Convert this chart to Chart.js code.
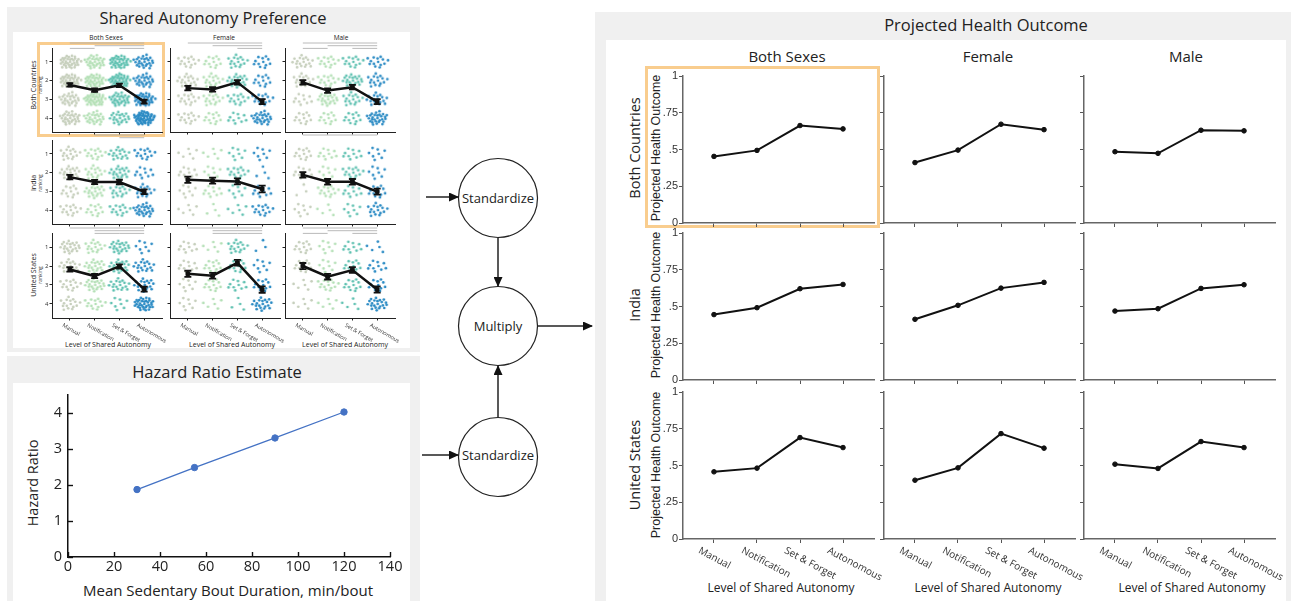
<!DOCTYPE html>
<html><head><meta charset="utf-8">
<script src="https://cdn.jsdelivr.net/npm/chart.js@4.4.1/dist/chart.umd.min.js"></script>
<style>
html,body{margin:0;padding:0;background:#fff;width:1291px;height:601px;overflow:hidden;position:relative;font-family:"Open Sans",sans-serif;color:#222}
.box{position:absolute}
.t{position:absolute;white-space:nowrap;transform:translate(-50%,-50%);line-height:1}
.r{transform:translate(-50%,-50%) rotate(-90deg)}
canvas{position:absolute}
svg{position:absolute;left:0;top:0}
</style></head><body>
<div class="box" style="left:7px;top:7px;width:413px;height:345px;background:#f0f0f0"></div>
<div class="box" style="left:13px;top:32px;width:397px;height:316px;background:#fff"></div>
<div class="box" style="left:7px;top:356px;width:413px;height:245px;background:#f0f0f0"></div>
<div class="box" style="left:13px;top:383px;width:397px;height:218px;background:#fff"></div>
<div class="box" style="left:595px;top:12px;width:696px;height:589px;background:#f0f0f0"></div>
<div class="box" style="left:606px;top:40px;width:680px;height:561px;background:#fff"></div>
<div class="box" style="left:37px;top:42px;width:122px;height:89px;border:3px solid #f9cd8e"></div>
<div class="box" style="left:645px;top:66px;width:229px;height:156px;border:3px solid #f9cd8e"></div>

<div class="t" style="left:213px;top:18px;font-size:16.5px">Shared Autonomy Preference</div>
<div class="t" style="left:217px;top:372px;font-size:16.5px">Hazard Ratio Estimate</div>
<div class="t" style="left:986px;top:25px;font-size:16.5px">Projected Health Outcome</div>
<div id="txt"></div>

<svg width="1291" height="601">
<defs><marker id="ah" markerWidth="10" markerHeight="9" refX="9" refY="4.5" orient="auto" markerUnits="userSpaceOnUse"><path d="M0,0 L10,4.5 L0,9 z" fill="#111"/></marker></defs>
<circle cx="498" cy="198" r="39.5" fill="#fff" stroke="#222" stroke-width="1.2"/>
<circle cx="498" cy="326" r="39.5" fill="#fff" stroke="#222" stroke-width="1.2"/>
<circle cx="498" cy="457" r="39.5" fill="#fff" stroke="#222" stroke-width="1.2"/>
<line x1="426" y1="197" x2="458" y2="197" stroke="#222" stroke-width="1.5" marker-end="url(#ah)"/>
<line x1="422" y1="455" x2="458" y2="455" stroke="#222" stroke-width="1.5" marker-end="url(#ah)"/>
<line x1="498" y1="238" x2="498" y2="286" stroke="#222" stroke-width="1.5" marker-end="url(#ah)"/>
<line x1="498" y1="417" x2="498" y2="366" stroke="#222" stroke-width="1.5" marker-end="url(#ah)"/>
<line x1="538" y1="326" x2="592" y2="326" stroke="#222" stroke-width="1.5" marker-end="url(#ah)"/>
<text x="498" y="202.5" text-anchor="middle" font-family="Open Sans" font-size="13" fill="#222">Standardize</text>
<text x="498" y="330.5" text-anchor="middle" font-family="Open Sans" font-size="13" fill="#222">Multiply</text>
<text x="498" y="460" text-anchor="middle" font-family="Open Sans" font-size="13" fill="#222">Standardize</text>
</svg>

<script>
// ---------------- DATA ----------------
const levels = ['Manual', 'Notification', 'Set & Forget', 'Autonomous'];
const sexes = ['Both Sexes', 'Female', 'Male'];
const regions = ['Both Countries', 'India', 'United States'];
const xAxisTitle = 'Level of Shared Autonomy';

// Projected Health Outcome (per level)
const healthBCBoth   = [0.453, 0.494, 0.663, 0.640];
const healthBCFemale = [0.411, 0.496, 0.672, 0.635];
const healthBCMale   = [0.485, 0.474, 0.631, 0.627];
const healthINBoth   = [0.445, 0.492, 0.621, 0.650];
const healthINFemale = [0.413, 0.508, 0.625, 0.664];
const healthINMale   = [0.469, 0.485, 0.623, 0.648];
const healthUSBoth   = [0.457, 0.482, 0.690, 0.622];
const healthUSFemale = [0.400, 0.484, 0.717, 0.618];
const healthUSMale   = [0.509, 0.480, 0.663, 0.622];
const healthTicks = [0, 0.25, 0.5, 0.75, 1];
const healthTickLabels = ['0', '.25', '.5', '.75', '1'];

// Shared autonomy preference: mean ranking and error
const prefBCBoth   = [2.23, 2.51, 2.25, 3.12];
const prefBCFemale = [2.40, 2.47, 2.09, 3.12];
const prefBCMale   = [2.09, 2.53, 2.35, 3.12];
const prefINBoth   = [2.24, 2.50, 2.50, 3.02];
const prefINFemale = [2.38, 2.43, 2.47, 2.87];
const prefINMale   = [2.12, 2.49, 2.49, 3.01];
const prefUSBoth   = [2.18, 2.53, 2.02, 3.22];
const prefUSFemale = [2.41, 2.51, 1.83, 3.24];
const prefUSMale   = [2.00, 2.56, 2.21, 3.24];
const errBCBoth   = [0.09, 0.09, 0.09, 0.10];
const errBCFemale = [0.12, 0.12, 0.12, 0.13];
const errBCMale   = [0.12, 0.12, 0.12, 0.13];
const errINBoth   = [0.12, 0.11, 0.12, 0.13];
const errINFemale = [0.17, 0.16, 0.16, 0.18];
const errINMale   = [0.15, 0.15, 0.15, 0.16];
const errUSBoth   = [0.12, 0.11, 0.11, 0.13];
const errUSFemale = [0.16, 0.15, 0.15, 0.17];
const errUSMale   = [0.16, 0.15, 0.15, 0.16];
const rankTicks = [1, 2, 3, 4];

// respondents per level (rows) at rank 1..4 (columns)
const countsBCBoth   = [[36,36,26,30],[30,36,40,26],[36,40,30,22],[26,26,36,50]];
const countsBCFemale = [[14,18,14,14],[12,16,16,12],[16,20,14,10],[12,12,14,26]];
const countsBCMale   = [[18,16,10,12],[14,14,22,12],[14,22,16,12],[14,16,18,28]];
const countsINBoth   = [[16,20,12,14],[14,16,20,12],[18,20,16,14],[14,10,16,26]];
const countsINFemale = [[6,10,8,6],[6,8,10,4],[8,14,8,6],[8,4,10,14]];
const countsINMale   = [[12,10,3,8],[10,8,14,5],[10,14,10,8],[8,8,12,16]];
const countsUSBoth   = [[22,18,14,16],[16,20,22,14],[22,20,18,8],[8,18,20,34]];
const countsUSFemale = [[10,10,8,8],[6,12,12,6],[16,12,10,4],[3,8,12,20]];
const countsUSMale   = [[12,12,6,6],[8,8,14,6],[10,12,12,5],[5,10,12,22]];

// significance brackets: [from level, to level, stack row]
const sigBCBoth   = [[0,3,0],[1,3,1],[0,1,2],[2,3,2]];
const sigBCFemale = [[0,3,0],[1,3,1],[2,3,2]];
const sigBCMale   = [[0,3,0],[1,3,1],[0,1,2],[2,3,2]];
const sigINBoth   = [[1,3,0],[2,3,1]];
const sigINFemale = [];
const sigINMale   = [[0,3,0]];
const sigUSBoth   = [[0,3,0],[1,3,1],[1,2,2],[2,3,2]];
const sigUSFemale = [[0,3,0],[1,3,1],[1,2,2],[2,3,2]];
const sigUSMale   = [[0,3,0],[1,3,1],[0,1,2],[2,3,2]];

// Hazard ratio estimate
const hazardDuration = [30, 55, 90, 120];
const hazardRatio = [1.87, 2.48, 3.30, 4.02];
const hazardXTicks = [0, 20, 40, 60, 80, 100, 120, 140];
const hazardYTicks = [0, 1, 2, 3, 4];

// ---------------- LAYOUT / STYLE ----------------
const healthGrid = [[healthBCBoth, healthBCFemale, healthBCMale],[healthINBoth, healthINFemale, healthINMale],[healthUSBoth, healthUSFemale, healthUSMale]];
const prefGrid = [[prefBCBoth, prefBCFemale, prefBCMale],[prefINBoth, prefINFemale, prefINMale],[prefUSBoth, prefUSFemale, prefUSMale]];
const errGrid = [[errBCBoth, errBCFemale, errBCMale],[errINBoth, errINFemale, errINMale],[errUSBoth, errUSFemale, errUSMale]];
const countGrid = [[countsBCBoth, countsBCFemale, countsBCMale],[countsINBoth, countsINFemale, countsINMale],[countsUSBoth, countsUSFemale, countsUSMale]];
const sigGrid = [[sigBCBoth, sigBCFemale, sigBCMale],[sigINBoth, sigINFemale, sigINMale],[sigUSBoth, sigUSFemale, sigUSMale]];
const levelColors = ['#c6cfbc', '#b4e0b6', '#5fc1b1', '#2b8bc4'];

const hCols = [683, 884, 1084], hW = 191;
const hRows = [76, 233, 392], hH = 147;
const pCols = [52, 170, 285], pW = 111;
const pRows = [48, 140, 233], pH = 85;

const txt = document.getElementById('txt');
function addText(s, x, y, size, opts = {}) {
  const d = document.createElement('div');
  d.className = 't' + (opts.rot ? ' r' : '');
  d.style.left = x + 'px'; d.style.top = y + 'px'; d.style.fontSize = size + 'px';
  if (opts.family) d.style.fontFamily = opts.family;
  if (opts.color) d.style.color = opts.color;
  d.textContent = s;
  txt.appendChild(d);
}
function mkCanvas(left, top, w, h) {
  const c = document.createElement('canvas');
  c.width = w; c.height = h;
  c.style.left = left + 'px'; c.style.top = top + 'px';
  c.style.width = w + 'px'; c.style.height = h + 'px';
  document.body.appendChild(c);
  return c;
}
function rotLabels(fontPx, dx, dy, angle, color) {
  return { id: 'rotLabels', afterDraw(chart) {
    const ctx = chart.ctx, xs = chart.scales.x, y0 = chart.chartArea.bottom;
    ctx.save();
    ctx.font = fontPx + 'px "Open Sans"';
    ctx.fillStyle = color; ctx.textAlign = 'left'; ctx.textBaseline = 'middle';
    levels.forEach((lab, i) => {
      const x = xs.getPixelForValue(i);
      ctx.save(); ctx.translate(x + dx, y0 + dy); ctx.rotate(angle * Math.PI / 180);
      ctx.fillText(lab, 0, 0); ctx.restore();
    });
    ctx.restore();
  }};
}
const baseOpts = { responsive: false, animation: false, devicePixelRatio: 1, events: [],
  plugins: { legend: { display: false }, tooltip: { enabled: false } } };

// ---------------- Projected health charts ----------------
function healthChart(r, c) {
  const L = 44, T = 10, R = 16, B = r === 2 ? 50 : 8;
  const cv = mkCanvas(hCols[c] - L, hRows[r] - T, L + hW + R, T + hH + B);
  const gridOpt = { drawOnChartArea: false, drawTicks: true, tickLength: 4, color: '#555', lineWidth: 1 };
  new Chart(cv, {
    type: 'line',
    data: { datasets: [{ data: healthGrid[r][c].map((v, i) => ({ x: i, y: v })),
      borderColor: '#111', backgroundColor: '#111', pointBackgroundColor: '#111', pointBorderColor: '#111',
      borderWidth: 2, pointRadius: 2.3, pointBorderWidth: 1, tension: 0 }] },
    options: Object.assign({}, baseOpts, {
      layout: { padding: { top: T, right: R, left: 0, bottom: 0 } },
      scales: {
        x: { type: 'linear', min: -0.72, max: 3.72,
          afterBuildTicks: s => { s.ticks = levels.map((_, i) => ({ value: i })); },
          afterFit: s => { s.height = B; },
          ticks: { display: false }, grid: gridOpt, border: { color: '#666', width: 1.5 } },
        y: { type: 'linear', min: 0, max: 1,
          afterBuildTicks: s => { s.ticks = healthTicks.map(v => ({ value: v })); },
          afterFit: s => { s.width = L; },
          ticks: { display: c === 0, padding: 1, color: '#333', font: { family: '"Liberation Sans", Arial', size: 11 },
            callback: v => healthTickLabels[healthTicks.indexOf(v)] },
          grid: gridOpt, border: { color: '#666', width: 1.5 } }
      }
    }),
    plugins: r === 2 ? [rotLabels(10, -15, 11, 28, '#333')] : []
  });
}

// ---------------- Preference charts ----------------
function cloudGlyph(n, color) {
  const cv = document.createElement('canvas'); cv.width = 28; cv.height = 20;
  const g = cv.getContext('2d'); g.fillStyle = color;
  for (let k = 0; k < n; k++) {
    const a = k * 2.39996323, rr = Math.sqrt((k + 0.5) / n);
    const wob = ((k * 7919) % 11 - 5) * 0.2;
    const x = 14 + (rr * 10.5 + wob) * Math.cos(a), y = 10 + (rr * 7 + wob * 0.6) * Math.sin(a);
    g.beginPath(); g.arc(x, y, 1.35, 0, Math.PI * 2); g.fill();
  }
  return cv;
}
function prefChart(r, c) {
  const L = 14, T = 12, R = 6, B = r === 2 ? 30 : 6;
  const cv = mkCanvas(pCols[c] - L, pRows[r] - T, L + pW + R, T + pH + B);
  const means = prefGrid[r][c], errs = errGrid[r][c], counts = countGrid[r][c], sig = sigGrid[r][c];
  const gridOpt = { drawOnChartArea: false, drawTicks: true, tickLength: 2.5, color: '#222', lineWidth: 1 };
  const ds = [{ type: 'line', order: 0, data: means.map((v, i) => ({ x: i, y: v })),
    borderColor: '#111', backgroundColor: '#111', pointBackgroundColor: '#111', pointBorderColor: '#111',
    borderWidth: 2.5, pointStyle: 'rect', pointRadius: 2.6, pointBorderWidth: 1, tension: 0 }];
  levels.forEach((lab, i) => ds.push({ type: 'scatter', order: 1, label: lab,
    data: rankTicks.map(k => ({ x: i, y: k })), pointStyle: counts[i].map(n => cloudGlyph(n, levelColors[i])),
    pointRadius: 6, showLine: false }));
  const extras = { id: 'extras', afterDatasetsDraw(chart) {
    const ctx = chart.ctx, xs = chart.scales.x, ys = chart.scales.y, a = chart.chartArea;
    ctx.save();
    ctx.strokeStyle = '#111'; ctx.lineWidth = 1.8;
    means.forEach((m, i) => {
      const x = xs.getPixelForValue(i), y1 = ys.getPixelForValue(m - errs[i]), y2 = ys.getPixelForValue(m + errs[i]);
      ctx.beginPath(); ctx.moveTo(x, y1); ctx.lineTo(x, y2);
      ctx.moveTo(x - 3.5, y1); ctx.lineTo(x + 3.5, y1); ctx.moveTo(x - 3.5, y2); ctx.lineTo(x + 3.5, y2); ctx.stroke();
    });
    ctx.strokeStyle = '#a8a8a8'; ctx.lineWidth = 0.8;
    sig.forEach(([i1, i2, lv]) => {
      const y = a.top - 5 + 2.7 * lv;
      ctx.beginPath(); ctx.moveTo(xs.getPixelForValue(i1), y); ctx.lineTo(xs.getPixelForValue(i2), y); ctx.stroke();
    });
    ctx.restore();
  }};
  const plugins = [extras];
  if (r === 2) plugins.push(rotLabels(5.5, -7, 7, 30, '#333'));
  new Chart(cv, {
    type: 'scatter',
    data: { datasets: ds },
    options: Object.assign({}, baseOpts, {
      layout: { padding: { top: T, right: R, left: 0, bottom: 0 } },
      scales: {
        x: { type: 'linear', min: -0.72, max: 3.72,
          afterBuildTicks: s => { s.ticks = levels.map((_, i) => ({ value: i })); },
          afterFit: s => { s.height = B; },
          ticks: { display: false }, grid: gridOpt, border: { color: '#222', width: 1 } },
        y: { type: 'linear', min: 0.26, max: 4.74, reverse: true,
          afterBuildTicks: s => { s.ticks = rankTicks.map(v => ({ value: v })); },
          afterFit: s => { s.width = L; },
          ticks: { display: c === 0, padding: 1, color: '#333', font: { family: '"Open Sans"', size: 6 } },
          grid: gridOpt, border: { color: '#222', width: 1 } }
      }
    }),
    plugins
  });
}

// ---------------- Hazard chart ----------------
function hazardChart() {
  const HL = 68, HT = 394, HW = 322, HH = 163;
  const L = 55, T = 14, R = 22, B = 30;
  const cv = mkCanvas(HL - L, HT - T, L + HW + R, T + HH + B);
  const inTicks = { id: 'inTicks', afterDraw(ch) {
    const ctx = ch.ctx, a = ch.chartArea, xs = ch.scales.x, ys = ch.scales.y;
    ctx.save(); ctx.strokeStyle = '#111'; ctx.lineWidth = 1.4;
    xs.ticks.forEach(t => { const p = Math.round(xs.getPixelForValue(t.value)) + 0.5; ctx.beginPath(); ctx.moveTo(p, a.bottom); ctx.lineTo(p, a.bottom - 5); ctx.stroke(); });
    ys.ticks.forEach(t => { const p = Math.round(ys.getPixelForValue(t.value)) + 0.5; ctx.beginPath(); ctx.moveTo(a.left, p); ctx.lineTo(a.left + 5, p); ctx.stroke(); });
    ctx.restore();
  }};
  const font = { family: '"Open Sans"', size: 14.5 };
  new Chart(cv, {
    type: 'line',
    data: { datasets: [{ data: hazardDuration.map((d, i) => ({ x: d, y: hazardRatio[i] })),
      borderColor: '#4472c4', backgroundColor: '#4472c4', pointBackgroundColor: '#4472c4', pointBorderColor: '#4472c4',
      borderWidth: 1.3, pointRadius: 3.2, pointBorderWidth: 1, tension: 0 }] },
    options: Object.assign({}, baseOpts, {
      layout: { padding: { top: T, right: R, left: 0, bottom: 0 } },
      scales: {
        x: { type: 'linear', min: 0, max: 140,
          afterBuildTicks: s => { s.ticks = hazardXTicks.map(v => ({ value: v })); },
          afterFit: s => { s.height = B; },
          ticks: { padding: 1, color: '#222', font, maxRotation: 0 },
          grid: { drawOnChartArea: false, drawTicks: false }, border: { color: '#111', width: 1.5 } },
        y: { type: 'linear', min: 0, max: 4.5,
          afterBuildTicks: s => { s.ticks = hazardYTicks.map(v => ({ value: v })); },
          afterFit: s => { s.width = L; },
          ticks: { padding: 6, color: '#222', font },
          grid: { drawOnChartArea: false, drawTicks: false }, border: { color: '#111', width: 1.5 } }
      }
    }),
    plugins: [inTicks]
  });
}

// ---------------- Build ----------------
for (let r = 0; r < 3; r++) for (let c = 0; c < 3; c++) { healthChart(r, c); prefChart(r, c); }
hazardChart();

// texts: projected health panel
[787, 988, 1186].forEach((x, i) => addText(sexes[i], x, 56, 15));
[148, 305, 465].forEach((y, i) => {
  addText(regions[i], 635, y, 14.5, { rot: true });
  addText('Projected Health Outcome', 656, y, 12.5, { rot: true, family: '"Liberation Sans", Arial' });
});
[781, 988, 1192].forEach(x => addText(xAxisTitle, x, 588, 12));
// texts: preference panel
[106, 224, 341].forEach((x, i) => addText(sexes[i], x, 38, 6.5));
[85, 183, 275].forEach((y, i) => {
  addText(regions[i], 33, y, 7, { rot: true });
  addText('ranking', 39.5, y, 5, { rot: true });
});
[108, 232, 345].forEach(x => addText(xAxisTitle, x, 344, 7));
// texts: hazard panel
addText('Hazard Ratio', 33, 483, 14.5, { rot: true });
addText('Mean Sedentary Bout Duration, min/bout', 228, 590, 15);
</script>
</body></html>
